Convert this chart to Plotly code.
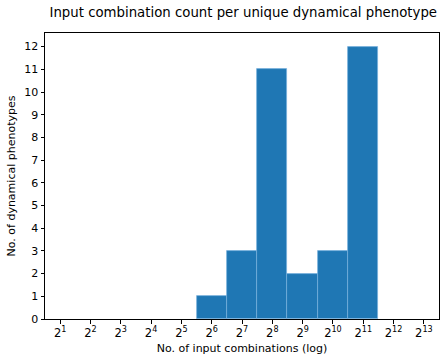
import plotly.graph_objects as go

# exponents of 2 (bin centres) and number of dynamical phenotypes per bin
exponents = [6, 7, 8, 9, 10, 11]
counts = [1, 3, 11, 2, 3, 12]
tick_exponents = list(range(1, 14))
tick_labels = [f"2<sup>{e}</sup>" for e in tick_exponents]
y_ticks = list(range(0, 13))

font = "DejaVu Sans, Liberation Sans, sans-serif"

fig = go.Figure()
fig.add_trace(
    go.Bar(
        x=exponents,
        y=counts,
        width=1,
        marker=dict(color="#1f77b4", line=dict(color="rgba(120,175,220,0.9)", width=0.8)),
        showlegend=False,
        hoverinfo="skip",
    )
)

fig.update_layout(
    width=448,
    height=361,
    margin=dict(l=45, r=9, t=33, b=42),
    plot_bgcolor="white",
    paper_bgcolor="white",
    font=dict(family=font, size=10, color="black"),
    bargap=0,
    title=dict(
        text="Input combination count per unique dynamical phenotype",
        x=0.543,
        xanchor="center",
        y=0.966,
        yanchor="middle",
        font=dict(size=13.3, color="black"),
    ),
    xaxis=dict(
        range=[0.5, 13.5],
        tickmode="array",
        tickvals=tick_exponents,
        ticktext=tick_labels,
        ticks="outside",
        ticklen=3.5,
        tickcolor="black",
        showline=True,
        linecolor="black",
        linewidth=1,
        mirror=True,
        showgrid=False,
        zeroline=False,
        automargin=False,
        tickfont=dict(size=11.5),
        title=dict(text="No. of input combinations (log)", font=dict(size=11), standoff=5),
    ),
    yaxis=dict(
        range=[0, 12.6],
        tickmode="array",
        tickvals=y_ticks,
        ticks="outside",
        ticklen=3.5,
        tickcolor="black",
        showline=True,
        linecolor="black",
        linewidth=1,
        mirror=True,
        showgrid=False,
        zeroline=False,
        automargin=False,
        tickfont=dict(size=11),
        title=dict(text="No. of dynamical phenotypes", font=dict(size=11), standoff=6),
    ),
)

fig.write_html(
    "out.html",
    config={"displayModeBar": False},
    post_script="document.body.style.margin='0';",
)
